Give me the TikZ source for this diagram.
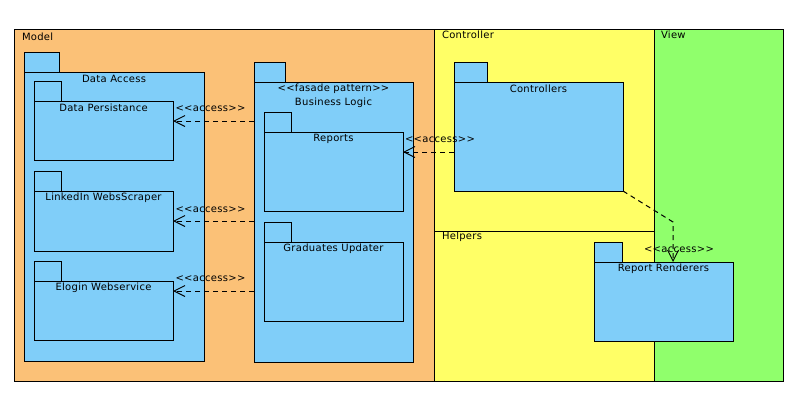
\documentclass[tikz,border=0pt]{standalone}
\usepackage{fontspec}
\newfontfamily\dfont{DejaVu Sans}[LetterSpace=3]
\usetikzlibrary{arrows.meta}
\definecolor{modelc}{RGB}{251,193,119}
\definecolor{pkgc}{RGB}{128,206,249}
\definecolor{ctrlc}{RGB}{255,255,102}
\definecolor{viewc}{RGB}{144,255,108}
\begin{document}
\begin{tikzpicture}[x=1pt,y=-1pt,
  every node/.style={font=\dfont\fontsize{10}{12}\selectfont, inner sep=0pt, outer sep=0pt},
  area/.style={draw=black, line width=1pt, anchor=north west},
  pkgbody/.style={draw=black, fill=pkgc, line width=1pt, anchor=north west},
  pkgtab/.style={draw=black, fill=pkgc, line width=1pt, anchor=south west, minimum height=20},
  areatitle/.style={anchor=west},
  title/.style={anchor=center},
  dep/.style={draw=black, line width=1pt, dash pattern=on 5pt off 4pt,
    -{Straight Barb[length=11pt,width=11pt,line width=0.9pt]}},
  lab/.style={anchor=west}
]
\useasboundingbox[fill=white] (0,0) rectangle (812,400);

% areas
\node[area, fill=modelc, minimum width=420, minimum height=352] (model) at (14,29) {};
\node[area, fill=ctrlc, minimum width=220, minimum height=202] (ctrl) at (434,29) {};
\node[area, fill=ctrlc, minimum width=220, minimum height=150] (help) at (434,231) {};
\node[area, fill=viewc, minimum width=129, minimum height=352] (view) at (654,29) {};
\node[areatitle] (modelt) at (22,37) {Model};
\node[areatitle] (ctrlt) at (442,35) {Controller};
\node[areatitle] (viewt) at (661,35) {View};
\node[areatitle] (helpt) at (442,237) {Helpers};

% Data Access
\node[pkgbody, minimum width=180, minimum height=289] (da) at (24,72) {};
\node[pkgtab, minimum width=35] (datab) at (da.north west) {};
\node[title] (dat) at ([yshift=-7pt]da.north) {Data Access};

\node[pkgbody, minimum width=139, minimum height=59] (dp) at (34,101) {};
\node[pkgtab, minimum width=27] (dptab) at (dp.north west) {};
\node[title] (dpt) at ([yshift=-7pt]dp.north) {Data Persistance};

\node[pkgbody, minimum width=139, minimum height=60] (lw) at (34,191) {};
\node[pkgtab, minimum width=27] (lwtab) at (lw.north west) {};
\node[title] (lwt) at ([yshift=-7pt]lw.north) {LinkedIn WebsScraper};

\node[pkgbody, minimum width=139, minimum height=59] (el) at (34,281) {};
\node[pkgtab, minimum width=27] (eltab) at (el.north west) {};
\node[title] (elt) at ([yshift=-7pt]el.north) {Elogin Webservice};

% Business Logic
\node[pkgbody, minimum width=159, minimum height=280] (bl) at (254,82) {};
\node[pkgtab, minimum width=31] (bltab) at (bl.north west) {};
\node[title] (blt1) at ([yshift=-7pt]bl.north) {<<fasade pattern>>};
\node[title] (blt2) at ([yshift=-21pt]bl.north) {Business Logic};

\node[pkgbody, minimum width=139, minimum height=79] (rp) at (264,132) {};
\node[pkgtab, minimum width=27] (rptab) at (rp.north west) {};
\node[title] (rpt) at ([yshift=-7pt]rp.north) {Reports};

\node[pkgbody, minimum width=139, minimum height=79] (gu) at (264,242) {};
\node[pkgtab, minimum width=27] (gutab) at (gu.north west) {};
\node[title] (gut) at ([yshift=-7pt]gu.north) {Graduates Updater};

% Controllers
\node[pkgbody, minimum width=169, minimum height=109] (ct) at (454,82) {};
\node[pkgtab, minimum width=33] (cttab) at (ct.north west) {};
\node[title] (ctt) at ([yshift=-7pt]ct.north) {Controllers};

% Report Renderers
\node[pkgbody, minimum width=139, minimum height=79] (rr) at (594,262) {};
\node[pkgtab, minimum width=28] (rrtab) at (rr.north west) {};
\node[title] (rrt) at ([yshift=-7pt]rr.north) {Report Renderers};

% dependencies
\coordinate (a1) at ([yshift=9.5pt]dp.east);
\draw[dep] (bl.west |- a1) -- (a1);
\node[lab] (l1) at ([xshift=2.5pt,yshift=12pt]a1) {<<access>>};

\coordinate (a2) at (lw.east);
\draw[dep] (bl.west |- a2) -- (a2);
\node[lab] (l2) at ([xshift=2.5pt,yshift=11pt]a2) {<<access>>};

\coordinate (a3) at ([yshift=19.5pt]el.east);
\draw[dep] (bl.west |- a3) -- (a3);
\node[lab] (l3) at ([xshift=2.5pt,yshift=12pt]a3) {<<access>>};

\coordinate (a4) at ([yshift=19.5pt]rp.east);
\draw[dep] (ct.west |- a4) -- (a4);
\node[lab] (l4) at ([xshift=2pt,yshift=12.4pt]a4) {<<access>>};

\coordinate (a5) at ([xshift=9.5pt]rr.north);
\coordinate (b5) at ([yshift=40pt]a5);
\draw[dep] (ct.south east) -- (b5) -- (a5);
\node[title] (l5) at ([xshift=6pt,yshift=12pt]a5) {<<access>>};
\end{tikzpicture}
\end{document}
